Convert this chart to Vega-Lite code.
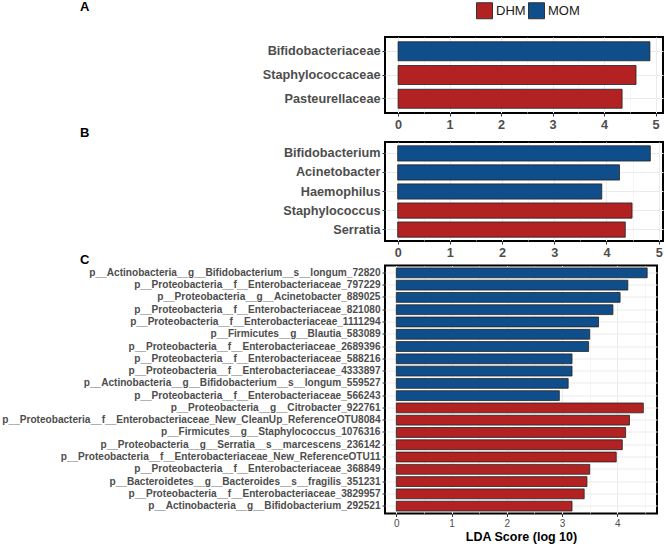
{
  "$schema": "https://vega.github.io/schema/vega-lite/v6.json",
  "padding": {"left": 0, "top": 0, "right": 0, "bottom": 0},
  "background": "white",
  "datasets": {
    "A": [
      {"taxon": "Bifidobacteriaceae", "lda": 4.89, "group": "MOM"},
      {"taxon": "Staphylococcaceae", "lda": 4.62, "group": "DHM"},
      {"taxon": "Pasteurellaceae", "lda": 4.35, "group": "DHM"}
    ],
    "B": [
      {"taxon": "Bifidobacterium", "lda": 4.84, "group": "MOM"},
      {"taxon": "Acinetobacter", "lda": 4.25, "group": "MOM"},
      {"taxon": "Haemophilus", "lda": 3.91, "group": "MOM"},
      {"taxon": "Staphylococcus", "lda": 4.49, "group": "DHM"},
      {"taxon": "Serratia", "lda": 4.36, "group": "DHM"}
    ],
    "C": [
      {"taxon": "p__Actinobacteria__g__Bifidobacterium__s__longum_72820", "lda": 4.54, "group": "MOM"},
      {"taxon": "p__Proteobacteria__f__Enterobacteriaceae_797229", "lda": 4.19, "group": "MOM"},
      {"taxon": "p__Proteobacteria__g__Acinetobacter_889025", "lda": 4.05, "group": "MOM"},
      {"taxon": "p__Proteobacteria__f__Enterobacteriaceae_821080", "lda": 3.92, "group": "MOM"},
      {"taxon": "p__Proteobacteria__f__Enterobacteriaceae_1111294", "lda": 3.66, "group": "MOM"},
      {"taxon": "p__Firmicutes__g__Blautia_583089", "lda": 3.5, "group": "MOM"},
      {"taxon": "p__Proteobacteria__f__Enterobacteriaceae_2689396", "lda": 3.48, "group": "MOM"},
      {"taxon": "p__Proteobacteria__f__Enterobacteriaceae_588216", "lda": 3.18, "group": "MOM"},
      {"taxon": "p__Proteobacteria__f__Enterobacteriaceae_4333897", "lda": 3.18, "group": "MOM"},
      {"taxon": "p__Actinobacteria__g__Bifidobacterium__s__longum_559527", "lda": 3.11, "group": "MOM"},
      {"taxon": "p__Proteobacteria__f__Enterobacteriaceae_566243", "lda": 2.95, "group": "MOM"},
      {"taxon": "p__Proteobacteria__g__Citrobacter_922761", "lda": 4.47, "group": "DHM"},
      {"taxon": "p__Proteobacteria__f__Enterobacteriaceae_New_CleanUp_ReferenceOTU8084", "lda": 4.22, "group": "DHM"},
      {"taxon": "p__Firmicutes__g__Staphylococcus_1076316", "lda": 4.15, "group": "DHM"},
      {"taxon": "p__Proteobacteria__g__Serratia__s__marcescens_236142", "lda": 4.09, "group": "DHM"},
      {"taxon": "p__Proteobacteria__f__Enterobacteriaceae_New_ReferenceOTU11", "lda": 3.98, "group": "DHM"},
      {"taxon": "p__Proteobacteria__f__Enterobacteriaceae_368849", "lda": 3.5, "group": "DHM"},
      {"taxon": "p__Bacteroidetes__g__Bacteroides__s__fragilis_351231", "lda": 3.45, "group": "DHM"},
      {"taxon": "p__Proteobacteria__f__Enterobacteriaceae_3829957", "lda": 3.4, "group": "DHM"},
      {"taxon": "p__Actinobacteria__g__Bifidobacterium_292521", "lda": 3.18, "group": "DHM"}
    ]
  },
  "spacing": -7.5,
  "vconcat": [
    {
      "spacing": -7,
      "vconcat": [
        {
          "data": {"name": "A"},
          "width": 278,
          "height": 76,
          "title": {"text": "A", "dx": -305, "offset": 23},
          "mark": {"type": "bar", "stroke": "#222222", "strokeWidth": 0.8},
          "encoding": {
            "y": {"field": "taxon", "type": "nominal", "sort": null,
                  "scale": {"paddingInner": 0.2, "paddingOuter": 0.2},
                  "axis": {"title": null, "grid": true, "labelFontSize": 12.7, "labelFontWeight": "bold", "labelLimit": 0}},
            "x": {"field": "lda", "type": "quantitative",
                  "scale": {"domain": [-0.254, 5.144], "nice": false},
                  "axis": {"title": null, "values": [0, 0.5, 1, 1.5, 2, 2.5, 3, 3.5, 4, 4.5, 5],
                           "labelExpr": "datum.value % 1 === 0 ? format(datum.value, 'd') : ''",
                           "grid": true,
                           "gridWidth": {"condition": {"test": "datum.value % 1 === 0", "value": 1}, "value": 0.5},
                           "tickOpacity": {"condition": {"test": "datum.value % 1 === 0", "value": 1}, "value": 0},
                           "labelFontSize": 12.7, "labelFontWeight": "bold", "labelFlush": false, "labelOverlap": false}},
            "x2": {"datum": 0},
            "color": {"field": "group", "type": "nominal",
                      "scale": {"domain": ["DHM", "MOM"], "range": ["#B22222", "#104E8B"]},
                      "legend": {"title": null, "orient": "none", "legendX": 91, "legendY": -35, "direction": "horizontal"}}
          }
        },
        {
          "data": {"name": "B"},
          "width": 278,
          "height": 99,
          "title": {"text": "B", "dx": -305, "offset": 2.3},
          "mark": {"type": "bar", "stroke": "#222222", "strokeWidth": 0.8},
          "encoding": {
            "y": {"field": "taxon", "type": "nominal", "sort": null,
                  "scale": {"paddingInner": 0.2, "paddingOuter": 0.2},
                  "axis": {"title": null, "grid": true, "labelFontSize": 12.7, "labelFontWeight": "bold", "labelLimit": 0}},
            "x": {"field": "lda", "type": "quantitative",
                  "scale": {"domain": [-0.243, 5.083], "nice": false},
                  "axis": {"title": null, "values": [0, 0.5, 1, 1.5, 2, 2.5, 3, 3.5, 4, 4.5, 5],
                           "labelExpr": "datum.value % 1 === 0 ? format(datum.value, 'd') : ''",
                           "grid": true,
                           "gridWidth": {"condition": {"test": "datum.value % 1 === 0", "value": 1}, "value": 0.5},
                           "tickOpacity": {"condition": {"test": "datum.value % 1 === 0", "value": 1}, "value": 0},
                           "labelFontSize": 12.7, "labelFontWeight": "bold", "labelFlush": false, "labelOverlap": false}},
            "x2": {"datum": 0},
            "color": {"field": "group", "type": "nominal",
                      "scale": {"domain": ["DHM", "MOM"], "range": ["#B22222", "#104E8B"]},
                      "legend": {"title": null, "orient": "none", "legendX": 91, "legendY": -35, "direction": "horizontal"}}
          }
        }
      ]
    },
    {
      "data": {"name": "C"},
      "width": 272,
      "height": 248,
      "title": {"text": "C", "dx": -305, "offset": -1.3},
      "mark": {"type": "bar", "stroke": "#222222", "strokeWidth": 0.8},
      "encoding": {
        "y": {"field": "taxon", "type": "nominal", "sort": null,
              "scale": {"paddingInner": 0.2, "paddingOuter": 0.2},
              "axis": {"title": null, "grid": true, "labelFontSize": 10.1, "labelFontWeight": "bold", "labelLimit": 0}},
        "x": {"field": "lda", "type": "quantitative",
              "scale": {"domain": [-0.205, 4.718], "nice": false},
              "axis": {"title": "LDA Score (log 10)", "values": [0, 0.5, 1, 1.5, 2, 2.5, 3, 3.5, 4, 4.5],
                       "labelExpr": "datum.value % 1 === 0 ? format(datum.value, 'd') : ''",
                       "grid": true,
                       "gridWidth": {"condition": {"test": "datum.value % 1 === 0", "value": 1}, "value": 0.5},
                       "tickOpacity": {"condition": {"test": "datum.value % 1 === 0", "value": 1}, "value": 0},
                       "labelFontSize": 10, "labelPadding": 1.5, "labelFlush": false, "labelOverlap": false,
                       "titleFontSize": 12.5, "titleFontWeight": "bold", "titleColor": "#000000", "titlePadding": 2}},
        "x2": {"datum": 0},
        "color": {"field": "group", "type": "nominal",
                  "scale": {"domain": ["DHM", "MOM"], "range": ["#B22222", "#104E8B"]},
                  "legend": {"title": null, "orient": "none", "legendX": 91, "legendY": -35, "direction": "horizontal"}}
      }
    }
  ],
  "config": {
    "font": "Liberation Sans",
    "view": {"stroke": "#000000", "strokeWidth": 2},
    "axis": {"labelColor": "#4D4D4D", "tickColor": "#333333", "tickSize": 3, "labelPadding": 2, "domain": false, "gridColor": "#EBEBEB"},
    "legend": {"symbolType": "square", "symbolSize": 256, "symbolStrokeColor": "#333333", "symbolStrokeWidth": 1,
               "symbolOpacity": 1, "labelFontSize": 13, "labelColor": "#1A1A1A", "labelOffset": 3, "columnPadding": 0, "padding": 0},
    "title": {"fontSize": 13, "fontWeight": "bold", "color": "#000000", "anchor": "start", "frame": "group", "baseline": "alphabetic"}
  }
}
